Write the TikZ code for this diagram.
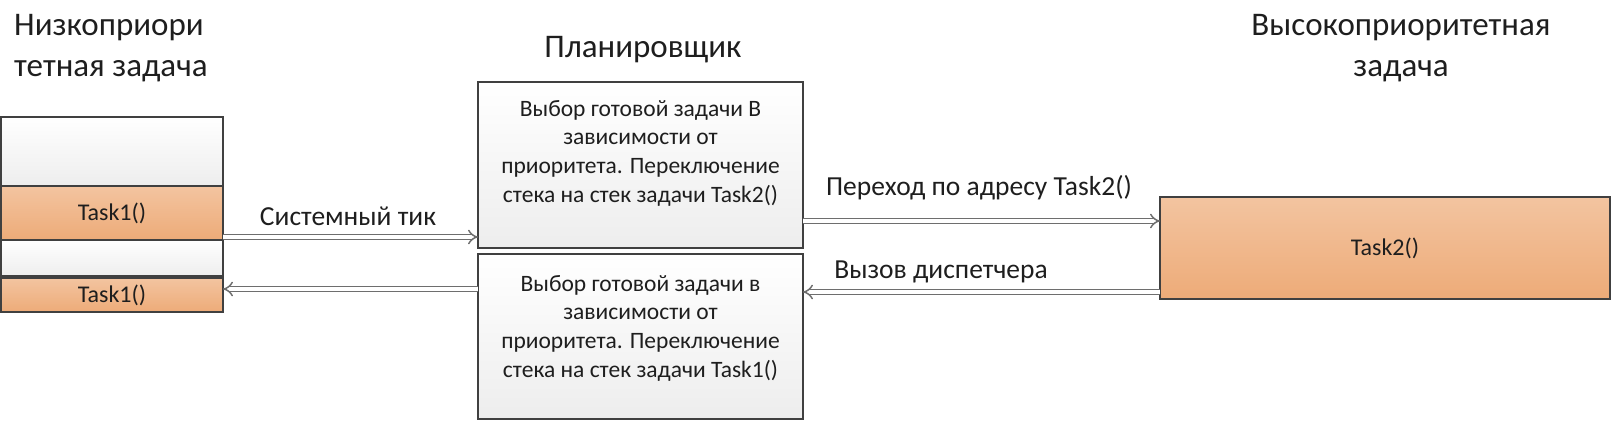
\documentclass[tikz,border=0pt]{standalone}
\usepackage{fontspec}
\setmainfont{Carlito}
\usetikzlibrary{arrows.meta,calc}
\definecolor{orA}{HTML}{F3C4A0}
\definecolor{orB}{HTML}{EDAB78}
\definecolor{edgec}{HTML}{404040}
\definecolor{txt}{HTML}{1E1E1E}
\definecolor{connc}{HTML}{6E6E6E}
\tikzset{
  box/.style={draw=edgec, line width=1.6pt, inner sep=0pt, outer sep=0pt, anchor=north west, text=txt, font=\fontsize{24}{28}\selectfont},
  graybox/.style={box, top color=white, bottom color=black!7},
  orbox/.style={box, top color=orA, bottom color=orB},
  ttl/.style={font=\fontsize{33}{41}\selectfont, text=txt, align=center, inner sep=0pt},
  btext/.style={font=\fontsize{23.5}{28.7}\selectfont, text=txt, align=center, inner sep=0pt, anchor=north},
  lab/.style={font=\fontsize{27.5}{30}\selectfont, text=txt, inner sep=0pt, anchor=base},
  conn/.style={draw=connc, line width=1.5pt, double=white, double distance=3.5pt, -{Implies[length=3pt]}}
}
\begin{document}
\begin{tikzpicture}[x=1pt,y=1pt]
\useasboundingbox (0,0) rectangle (1615,-425);
% titles
\node[ttl, anchor=north west, align=left] (tl) at (14,-14) {Низкоприори\\тетная задача};
\node[ttl, anchor=north] (tm) at (643,-36) {Планировщик};
\node[ttl, anchor=north] (tr) at (1401,-14) {Высокоприоритетная\\задача};
% left stack
\node[graybox, minimum width=222pt, minimum height=69pt] (lw) at (1,-117) {};
\node[orbox, minimum width=222pt, minimum height=54pt] (lt1) at (1,-186) {Task1()};
\node[graybox, minimum width=222pt, minimum height=36pt] (lg) at (1,-240) {};
\node[orbox, minimum width=222pt, minimum height=34pt] (lt2) at (1,-278) {Task1()};
% scheduler
\node[graybox, minimum width=325pt, minimum height=166pt] (s1) at (478,-82) {};
\node[graybox, minimum width=325pt, minimum height=165pt] (s2) at (478,-254) {};
\node[btext] (s1t) at ($(s1.north)+(0,-18)$) {Выбор готовой задачи В\\зависимости от\\приоритета. Переключение\\стека на стек задачи Task2()};
\node[btext] (s2t) at ($(s2.north)+(0,-21)$) {Выбор готовой задачи в\\зависимости от\\приоритета. Переключение\\стека на стек задачи Task1()};
% high priority task
\node[orbox, minimum width=450pt, minimum height=102pt] (t2) at (1160,-197) {Task2()};
% connectors
\draw[conn] (lt1.east |- 0,-237) -- (s1.west |- 0,-237);
\draw[conn] (s2.west |- 0,-289) -- (lt2.east |- 0,-289);
\draw[conn] (s1.east |- 0,-221) -- (t2.west |- 0,-221);
\draw[conn] (t2.west |- 0,-292) -- (s2.east |- 0,-292);
% labels
\node[lab] (l1) at (348,-225) {Системный тик};
\node[lab] (l2) at (979,-195) {Переход по адресу Task2()};
\node[lab] (l3) at (941,-278) {Вызов диспетчера};
\end{tikzpicture}
\end{document}
